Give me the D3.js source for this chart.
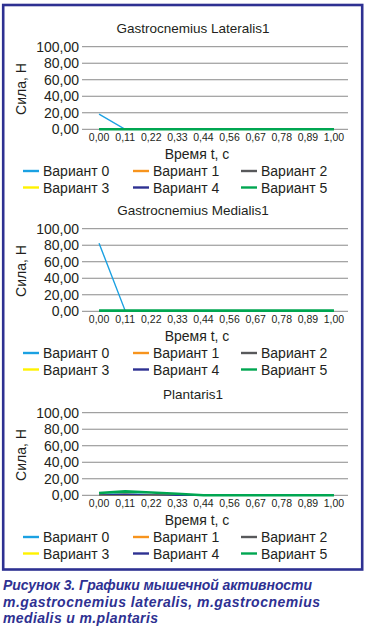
<!DOCTYPE html>
<html><head><meta charset="utf-8">
<script src="https://cdn.jsdelivr.net/npm/d3@7/dist/d3.min.js"></script>
<style>
html,body{margin:0;padding:0;background:#fff;}
svg{display:block;font-family:Arial,"Liberation Sans",sans-serif;}
</style></head>
<body><svg id="c" width="367" height="632"></svg>
<script>
const categories = ["0,00","0,11","0,22","0,33","0,44","0,56","0,67","0,78","0,89","1,00"];
const seriesNames = ["Вариант 0","Вариант 1","Вариант 2","Вариант 3","Вариант 4","Вариант 5"];
const seriesColors = ["#1ba1e2","#f7941d","#58595b","#fff200","#2e3192","#00a651"];
const yTicks = [0,20,40,60,80,100];
const chartTitles = ["Gastrocnemius Lateralis1","Gastrocnemius Medialis1","Plantaris1"];
// values per chart, per series
const lateralis = [
  [18.4,0,0,0,0,0,0,0,0,0],
  [0,0,0,0,0,0,0,0,0,0],
  [0,0,0,0,0,0,0,0,0,0],
  [0,0,0,0,0,0,0,0,0,0],
  [0,0,0,0,0,0,0,0,0,0],
  [0,0,0,0,0,0,0,0,0,0]
];
const medialis = [
  [82.5,0.8,0.8,0.8,0.8,0.8,0.8,0.8,0.8,0.8],
  [0.8,0.8,0.8,0.8,0.8,0.8,0.8,0.8,0.8,0.8],
  [0.8,0.8,0.8,0.8,0.8,0.8,0.8,0.8,0.8,0.8],
  [0.8,0.8,0.8,0.8,0.8,0.8,0.8,0.8,0.8,0.8],
  [0.8,0.8,0.8,0.8,0.8,0.8,0.8,0.8,0.8,0.8],
  [0.8,0.8,0.8,0.8,0.8,0.8,0.8,0.8,0.8,0.8]
];
const plantaris = [
  [1.0,1.8,0.6,0,0,0,0,0,0,0],
  [0.5,1.0,0.5,0,0,0,0,0,0,0],
  [0.5,1.0,0.5,0,0,0,0,0,0,0],
  [0.5,1.0,0.5,0,0,0,0,0,0,0],
  [0.5,1.0,0.5,0,0,0,0,0,0,0],
  [2.8,4.8,3.3,1.8,0,0,0,0,0,0]
];
const chartData = [lateralis, medialis, plantaris];
const captionLines = ["Рисунок 3. Графики мышечной активности","m.gastrocnemius lateralis, m.gastrocnemius","medialis и m.plantaris"];

const svg = d3.select("#c");
svg.append("rect").attr("x",3.2).attr("y",5).attr("width",359).attr("height",564.5)
  .attr("fill","none").attr("stroke","#2e3192").attr("stroke-width",2.6);

const offsets = [0,182,366];
const x = d3.scaleBand().domain(categories).range([86,347]);
const y = d3.scaleLinear().domain([0,100]).range([129.3,46.7]);

chartData.forEach((data,ci)=>{
  const g = svg.append("g").attr("transform",`translate(0,${offsets[ci]})`);
  g.append("text").attr("x",193).attr("y",33).attr("text-anchor","middle")
    .attr("font-size",13.5).attr("fill","#231f20").text(chartTitles[ci]);
  // grid
  g.append("g").selectAll("line").data(yTicks).join("line")
    .attr("x1",82).attr("x2",348).attr("y1",d=>y(d)).attr("y2",d=>y(d))
    .attr("stroke","#8a8a8a").attr("stroke-width",1);
  g.append("g").selectAll("text").data(yTicks).join("text")
    .attr("x",79).attr("y",d=>y(d)).attr("dy","0.36em").attr("text-anchor","end")
    .attr("font-size",14).attr("fill","#231f20").text(d=>d3.format(".2f")(d).replace(".",","));
  g.append("text").attr("transform","translate(26,89) rotate(-90)").attr("text-anchor","middle")
    .attr("font-size",14).attr("fill","#231f20").text("Сила, Н");
  // x labels
  g.append("g").selectAll("text").data(categories).join("text")
    .attr("x",d=>x(d)+x.bandwidth()/2).attr("y",141)
    .attr("text-anchor","middle").attr("font-size",10.5)
    .attr("font-family","'Liberation Sans Narrow','Arial Narrow',Arial,sans-serif")
    .attr("fill","#231f20").text(d=>d);
  g.append("text").attr("x",197).attr("y",159).attr("text-anchor","middle")
    .attr("font-size",14).attr("fill","#231f20").text("Время t, с");
  // lines
  const line = d3.line().x((d,i)=>x(categories[i])+x.bandwidth()/2).y(d=>y(d));
  data.forEach((vals,si)=>{
    g.append("path").attr("d",line(vals)).attr("fill","none")
      .attr("stroke",seriesColors[si]).attr("stroke-width",si===5?2.6:1.4);
  });
  // legend
  const colX = [23,133,241];
  const rowY = [171,187.5];
  seriesNames.forEach((n,si)=>{
    const lx = colX[si%3], ly = rowY[Math.floor(si/3)];
    g.append("line").attr("x1",lx).attr("x2",lx+16).attr("y1",ly).attr("y2",ly)
      .attr("stroke",seriesColors[si]).attr("stroke-width",2.4);
    g.append("text").attr("x",lx+20).attr("y",ly).attr("dy","0.36em")
      .attr("font-size",14).attr("fill","#231f20").text(n);
  });
});

const capY = [590,606.5,623];
const capW = [309,317,155];
captionLines.forEach((t,i)=>{
  svg.append("text").attr("x",3).attr("y",capY[i]).attr("font-size",14)
    .attr("font-weight","bold").attr("font-style","italic").attr("fill","#2e3192")
    .attr("textLength",capW[i]).attr("lengthAdjust","spacing").text(t);
});
</script></body></html>
